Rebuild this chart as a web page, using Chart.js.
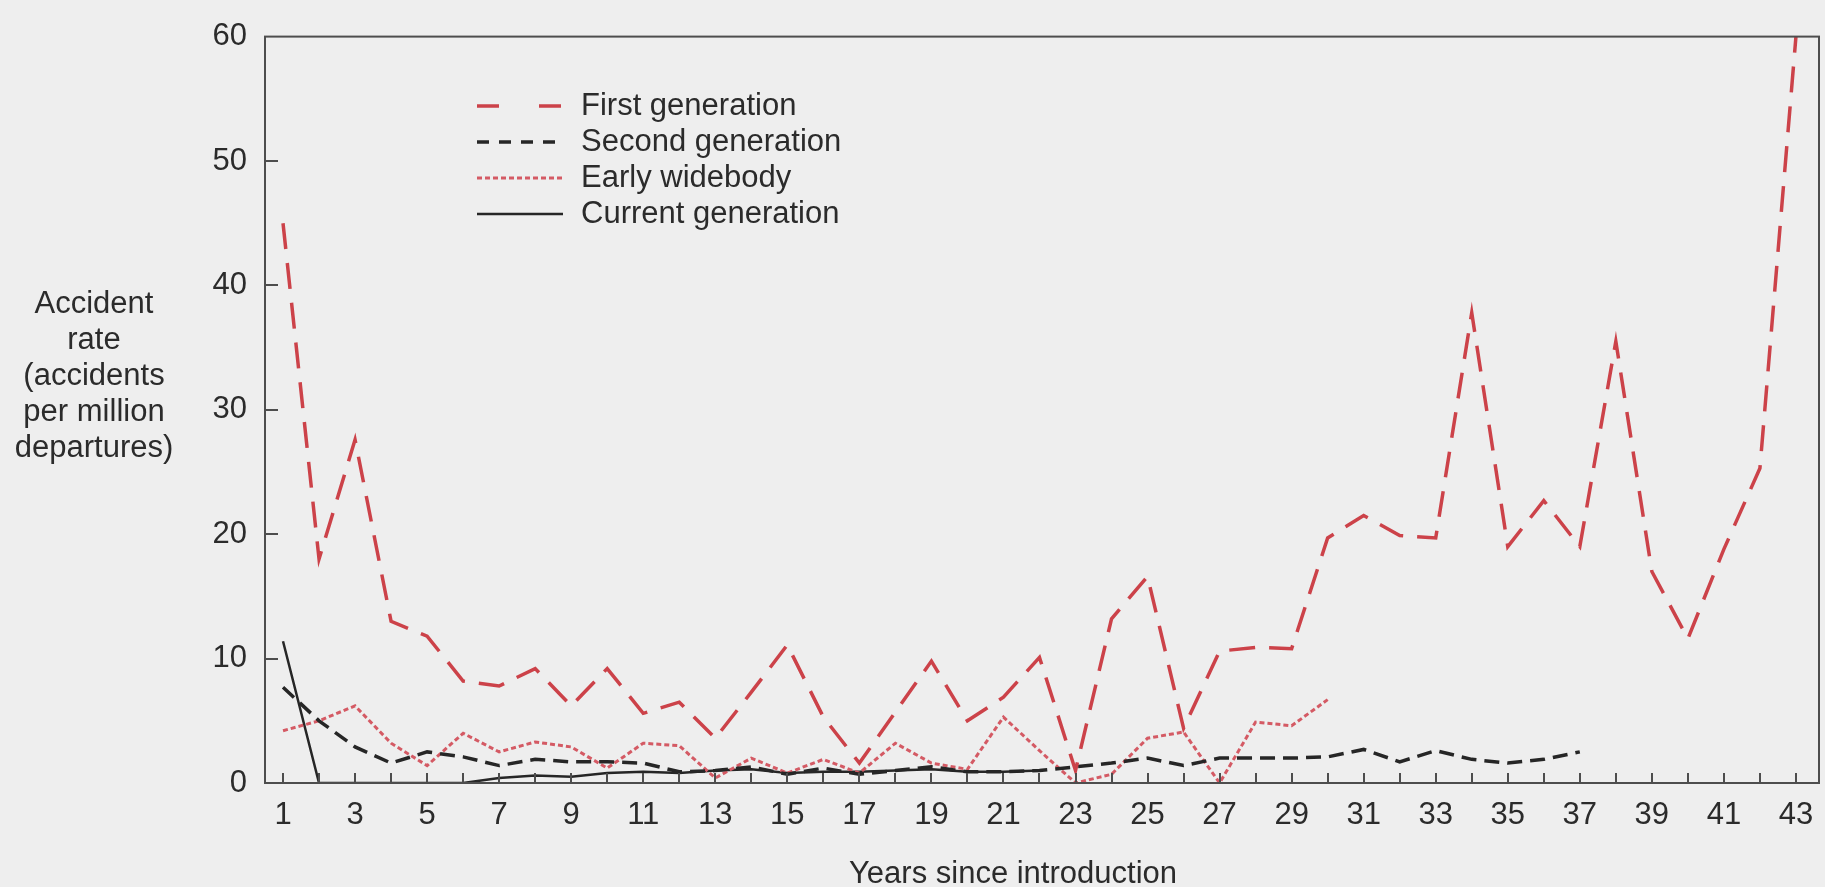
<!DOCTYPE html>
<html>
<head>
<meta charset="utf-8">
<title>Accident rate by years since introduction</title>
<script src="https://cdn.jsdelivr.net/npm/chart.js@4.4.1/dist/chart.umd.min.js"></script>
<style>
  html, body { margin: 0; padding: 0; background: #eeeeee; }
  #wrap { width: 1825px; height: 887px; }
</style>
</head>
<body>
<div id="wrap"><canvas id="accidentChart" width="1825" height="887"></canvas></div>
<script>
// Years since introduction (x) and the labelled ticks
const years = Array.from({ length: 43 }, (_, i) => i + 1);
const yearLabels = [1, 3, 5, 7, 9, 11, 13, 15, 17, 19, 21, 23, 25, 27, 29, 31, 33, 35, 37, 39, 41, 43];
const rateTicks = [0, 10, 20, 30, 40, 50, 60];

// Accidents per million departures, one value per year
const firstGeneration = [45, 18, 27.6, 13, 11.8, 8.2, 7.8, 9.2, 6.2, 9.2, 5.6, 6.5, 3.6, 7.3, 11.1,
  5.3, 1.6, 5.7, 9.8, 5.0, 6.9, 10.1, 1.0, 13.2, 16.6, 4.4, 10.6, 10.9, 10.8, 19.7,
  21.5, 19.9, 19.7, 37.8, 19.0, 22.7, 19.0, 35.5, 17.0, 11.6, 18.8, 25.3, 60];
const secondGeneration = [7.7, 5.0, 2.9, 1.6, 2.5, 2.1, 1.4, 1.9, 1.7, 1.7, 1.6, 0.9, 1.0, 1.3, 0.7,
  1.2, 0.7, 1.0, 1.3, 0.9, 0.9, 1.0, 1.3, 1.6, 2.0, 1.4, 2.0, 2.0, 2.0, 2.1,
  2.7, 1.7, 2.6, 1.9, 1.6, 1.9, 2.5];
const earlyWidebody = [4.2, 5.0, 6.2, 3.2, 1.4, 4.0, 2.5, 3.3, 2.9, 1.2, 3.2, 3.0, 0.4, 2.0, 0.8,
  1.9, 0.8, 3.2, 1.6, 1.1, 5.3, 2.6, 0, 0.7, 3.6, 4.1, 0, 4.9, 4.6, 6.7];
const currentGeneration = [11.4, 0, 0, 0, 0, 0, 0.4, 0.6, 0.5, 0.8, 0.9, 0.8, 1.0, 1.1, 0.8,
  0.9, 0.9, 1.0, 1.1, 0.9, 0.9, 1.0];

const seriesNames = ['First generation', 'Second generation', 'Early widebody', 'Current generation'];

const FONT = "'Liberation Sans', Arial, Helvetica, sans-serif";
const TEXT = '#2b2b2b';
const AXIS = '#4d4d4d';

const toPoints = vals => vals.map((v, i) => ({ x: years[i], y: v }));

// Box around the plot, inward tick marks, axis titles and the legend
const decorations = {
  id: 'decorations',
  afterDatasetsDraw(chart) {
    const { ctx, chartArea: a, scales: { x, y } } = chart;
    ctx.save();
    ctx.strokeStyle = AXIS;
    ctx.lineWidth = 2;
    ctx.setLineDash([]);
    ctx.strokeRect(a.left, a.top, a.right - a.left, a.bottom - a.top);
    ctx.beginPath();
    years.forEach(yr => {
      const px = Math.round(x.getPixelForValue(yr));
      ctx.moveTo(px, a.bottom);
      ctx.lineTo(px, a.bottom - 10);
    });
    rateTicks.slice(1, -1).forEach(v => {
      const py = Math.round(y.getPixelForValue(v));
      ctx.moveTo(a.left, py);
      ctx.lineTo(a.left + 13, py);
    });
    ctx.stroke();
    ctx.restore();
  },
  afterDraw(chart) {
    const { ctx } = chart;
    ctx.save();
    ctx.fillStyle = TEXT;
    ctx.font = `31px ${FONT}`;
    ctx.textBaseline = 'middle';

    // y axis title, stacked lines
    ctx.textAlign = 'center';
    ['Accident', 'rate', '(accidents', 'per million', 'departures)'].forEach((line, i) => {
      ctx.fillText(line, 94, 304 + i * 36);
    });

    // x axis title
    ctx.fillText('Years since introduction', 1013, 874);

    // legend
    ctx.textAlign = 'left';
    chart.data.datasets.forEach((ds, i) => {
      const ly = 106 + i * 36;
      ctx.beginPath();
      ctx.strokeStyle = ds.borderColor;
      ctx.lineWidth = ds.borderWidth;
      ctx.setLineDash(ds.legendDash || ds.borderDash || []);
      ctx.moveTo(477, ly);
      ctx.lineTo(563, ly);
      ctx.stroke();
      ctx.setLineDash([]);
      ctx.fillStyle = TEXT;
      ctx.fillText(ds.label, 581, ly);
    });
    ctx.restore();
  }
};

new Chart(document.getElementById('accidentChart'), {
  type: 'line',
  data: {
    datasets: [
      {
        label: seriesNames[0],
        data: toPoints(firstGeneration),
        borderColor: '#cc4249',
        borderWidth: 3.5,
        borderDash: [26, 14],
        legendDash: [22, 40]
      },
      {
        label: seriesNames[1],
        data: toPoints(secondGeneration),
        borderColor: '#262626',
        borderWidth: 3.5,
        borderDash: [15, 8],
        legendDash: [12, 10]
      },
      {
        label: seriesNames[2],
        data: toPoints(earlyWidebody),
        borderColor: '#d45a64',
        borderWidth: 3,
        borderDash: [5, 3]
      },
      {
        label: seriesNames[3],
        data: toPoints(currentGeneration),
        borderColor: '#262626',
        borderWidth: 2.5,
        borderDash: []
      }
    ]
  },
  options: {
    responsive: false,
    animation: false,
    elements: {
      point: { radius: 0 },
      line: { tension: 0, fill: false }
    },
    layout: { padding: { top: 29, right: 6, left: 0, bottom: 0 } },
    plugins: {
      legend: { display: false },
      tooltip: { enabled: false }
    },
    scales: {
      x: {
        type: 'linear',
        min: 0.5,
        max: 43.64,
        afterBuildTicks(scale) { scale.ticks = yearLabels.map(v => ({ value: v })); },
        afterFit(scale) {
          scale.height = 104;
          scale.paddingRight = 0;
        },
        grid: { display: false, drawTicks: false },
        border: { display: false },
        ticks: {
          autoSkip: false,
          maxRotation: 0,
          padding: 14,
          color: TEXT,
          font: { family: FONT, size: 31 }
        }
      },
      y: {
        min: rateTicks[0],
        max: rateTicks[rateTicks.length - 1],
        afterBuildTicks(scale) { scale.ticks = rateTicks.map(v => ({ value: v })); },
        afterFit(scale) { scale.width = 265; },
        grid: { display: false, drawTicks: false },
        border: { display: false },
        ticks: {
          padding: 18,
          color: TEXT,
          font: { family: FONT, size: 31 }
        }
      }
    }
  },
  plugins: [decorations]
});
</script>
</body>
</html>
